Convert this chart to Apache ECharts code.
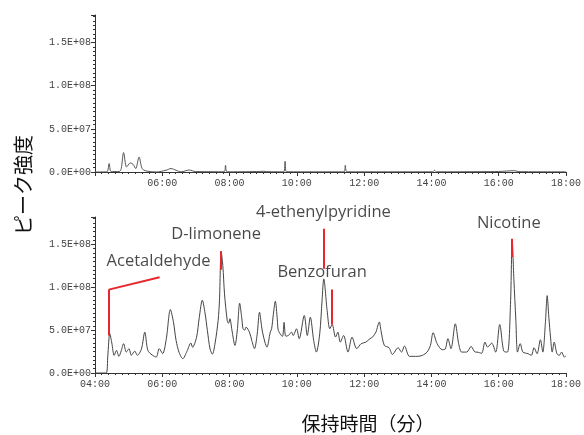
<!DOCTYPE html>
<html><head><meta charset="utf-8">
<script src="https://cdn.jsdelivr.net/npm/echarts@6/dist/echarts.min.js"></script>
<style>html,body{margin:0;padding:0;background:#fff}#c{width:584px;height:435px}</style>
</head><body><div id="c"></div>
<script>
// time in minutes, intensity in units of 1E+07
const topTimes = [4.00,4.35,4.42,4.48,4.72,4.78,4.85,4.94,5.05,5.13,5.21,5.31,5.40,5.52,5.82,6.11,6.26,6.41,6.56,6.80,6.99,7.84,7.88,7.93,8.80,9.00,9.20,9.61,9.65,9.69,11.40,11.44,11.49,14.04,14.09,14.15,15.50,16.00,16.48,16.60,18.00];
const topValues = [0,0.02,0.98,0.05,0.05,0.4,2.25,0.58,1.05,0.9,0.4,1.74,0.4,0.12,0.0,0.2,0.4,0.2,0.02,0.23,0.05,0.03,0.78,0.02,0.05,0.08,0.03,0.03,1.24,0.03,0.02,0.78,0.02,0.02,0.2,0.02,0.04,0.06,0.15,0.04,0.02];

const bottomTimes = [4.00,4.33,4.38,4.44,4.50,4.57,4.64,4.71,4.78,4.85,4.93,5.01,5.08,5.18,5.26,5.38,5.48,5.57,5.70,5.82,5.91,6.01,6.12,6.24,6.33,6.41,6.50,6.61,6.73,6.85,6.90,7.02,7.10,7.19,7.27,7.34,7.42,7.49,7.57,7.66,7.70,7.75,7.80,7.85,7.93,7.97,8.01,8.07,8.16,8.23,8.30,8.36,8.40,8.45,8.49,8.59,8.66,8.74,8.82,8.89,8.95,8.98,9.05,9.11,9.21,9.25,9.30,9.36,9.42,9.45,9.57,9.62,9.67,9.75,9.84,9.89,9.99,10.07,10.22,10.31,10.40,10.50,10.58,10.68,10.75,10.80,10.90,10.98,11.05,11.15,11.22,11.29,11.39,11.52,11.64,11.78,11.91,12.05,12.17,12.25,12.35,12.45,12.50,12.60,12.74,12.84,13.01,13.11,13.20,13.35,13.58,13.73,13.87,13.97,14.05,14.17,14.32,14.41,14.49,14.58,14.71,14.81,14.90,15.05,15.18,15.30,15.35,15.49,15.59,15.67,15.79,15.91,16.03,16.15,16.26,16.35,16.40,16.45,16.51,16.56,16.64,16.72,16.87,16.97,17.05,17.14,17.24,17.31,17.39,17.44,17.49,17.54,17.59,17.65,17.73,17.80,17.87,17.95,18.00];
const bottomValues = [0,0,2.0,4.6,3.5,2.06,2.64,1.94,2.6,3.42,2.44,2.84,2.06,2.56,2.06,2.8,4.77,2.64,2.1,1.86,2.84,2.26,4.0,7.4,6.0,3.8,2.4,1.67,2.5,3.5,3.0,4.19,6.5,8.5,7.0,4.97,2.8,2.2,3.5,6.13,8.5,14.19,12.5,9.23,6.13,5.8,6.33,5.0,3.22,5.0,8.14,6.5,5.16,5.0,5.35,4.77,3.8,2.84,4.5,7.09,5.5,4.77,3.6,3.02,4.77,5.16,6.8,8.37,6.2,4.97,4.27,5.9,4.3,4.38,4.77,4.38,5.16,4.0,6.71,4.38,6.51,3.8,2.44,4.58,8.5,10.98,7.29,5.16,5.66,4.19,4.77,3.6,4.38,2.44,4.19,2.84,3.42,3.6,4.0,4.19,4.77,5.95,4.97,3.22,2.95,2.17,2.95,2.44,3.14,1.94,1.94,2.06,2.44,3.22,4.7,3.42,2.72,2.8,4.0,2.84,5.74,3.42,2.44,2.44,3.1,2.44,2.44,2.3,3.6,3.02,3.49,2.44,5.66,2.56,2.44,8.0,15.63,11.0,6.13,2.44,3.42,2.44,2.26,2.06,2.95,2.26,3.88,2.44,6.0,9.03,6.5,4.19,2.44,3.6,2.26,2.06,2.44,1.86,2.0];

const xTicks = [4,6,8,10,12,14,16,18];
const yTicks = [0,5,10,15];

const annotNames = ['Acetaldehyde','D-limonene','4-ethenylpyridine','Benzofuran','Nicotine'];
const annotLabelTimes = [5.89,7.60,10.79,10.75,16.30];
const annotLabelValues = [13.02,16.21,18.72,11.74,17.44];
// leader segments: [t1, v1, t2, v2]
const leaderSegments = [
  [4.41,4.38,4.41,9.73],
  [4.41,9.73,5.92,11.16],
  [7.74,12.06,7.74,14.19],
  [10.80,12.17,10.80,16.83],
  [11.04,5.66,11.04,9.73],
  [16.40,13.49,16.40,15.66]
];

const yTitle = 'ピーク強度';
const xTitle = '保持時間（分）';

function sci(v){
  if (v === 0) return '0.0E+00';
  const s = (v*1e7).toExponential(1);
  const parts = s.split('e');
  const n = parseInt(parts[1],10);
  return parts[0] + 'E' + (n<0?'-':'+') + String(Math.abs(n)).padStart(2,'0');
}
function tfmt(v){ return String(Math.round(v)).padStart(2,'0') + ':00'; }

const labelFont = {fontFamily:'Liberation Mono', fontSize:10, color:'#444'};
function mkX(gi, showMin){
  return {type:'value', gridIndex:gi, min:4, max:18, interval:2,
    axisLine:{lineStyle:{color:'#333', width:1}},
    axisTick:{length:4, lineStyle:{color:'#333'}},
    minorTick:{show:true, splitNumber:10, length:2, lineStyle:{color:'#333'}},
    splitLine:{show:false},
    axisLabel:Object.assign({formatter:tfmt, margin:6, showMinLabel:showMin}, labelFont)};
}
function mkY(gi){
  return {type:'value', gridIndex:gi, min:0, max:18.2, interval:5,
    axisLine:{show:true, lineStyle:{color:'#333', width:1}},
    axisTick:{show:true, length:4, lineStyle:{color:'#333'}},
    minorTick:{show:true, splitNumber:10, length:2, lineStyle:{color:'#333'}},
    splitLine:{show:false},
    axisLabel:Object.assign({formatter:sci, margin:4, showMaxLabel:false}, labelFont)};
}

const topData = topTimes.map((t,i)=>[t, topValues[i]]);
const bottomData = bottomTimes.map((t,i)=>[t, bottomValues[i]]);
const labelData = annotNames.map((n,i)=>({name:n, value:[annotLabelTimes[i], annotLabelValues[i]]}));
const leaderData = leaderSegments.map(s=>[{coord:[s[0],s[1]]},{coord:[s[2],s[3]]}]);

const chart = echarts.init(document.getElementById('c'), null, {renderer:'canvas'});
chart.setOption({
  animation:false,
  backgroundColor:'#fff',
  grid:[
    {left:95, right:14, top:15, height:157},
    {left:95, right:14, top:217, height:156}
  ],
  xAxis:[mkX(0,false), mkX(1,true)],
  yAxis:[mkY(0), mkY(1)],
  series:[
    {type:'line', xAxisIndex:0, yAxisIndex:0, data:topData, showSymbol:false, smooth:0.3,
     lineStyle:{color:'#555', width:1}},
    {type:'line', xAxisIndex:1, yAxisIndex:1, data:bottomData, showSymbol:false, smooth:0.3,
     lineStyle:{color:'#444', width:1},
     markLine:{silent:true, symbol:['none','none'], animation:false,
       lineStyle:{color:'#e8262d', width:2, type:'solid'}, label:{show:false},
       data:leaderData}},
    {type:'scatter', xAxisIndex:1, yAxisIndex:1, data:labelData, symbol:'circle', symbolSize:2, clip:false,
     itemStyle:{color:'rgba(0,0,0,0)'}, silent:true, z:10,
     label:{show:true, position:'inside', formatter:'{b}', fontFamily:'Open Sans', fontSize:16.5, color:'#1a1a1a'},
     labelLayout:{hideOverlap:false}}
  ],
  graphic:[
    {type:'text', x:23, y:185, rotation:Math.PI/2,
     style:{text:yTitle, fontSize:20, fontFamily:'Noto Sans CJK JP', fill:'#111', align:'center', verticalAlign:'middle'}},
    {type:'text', x:368, y:424,
     style:{text:xTitle, fontSize:19, fontFamily:'Noto Sans CJK JP', fill:'#111', align:'center', verticalAlign:'middle'}}
  ]
});
</script></body></html>
